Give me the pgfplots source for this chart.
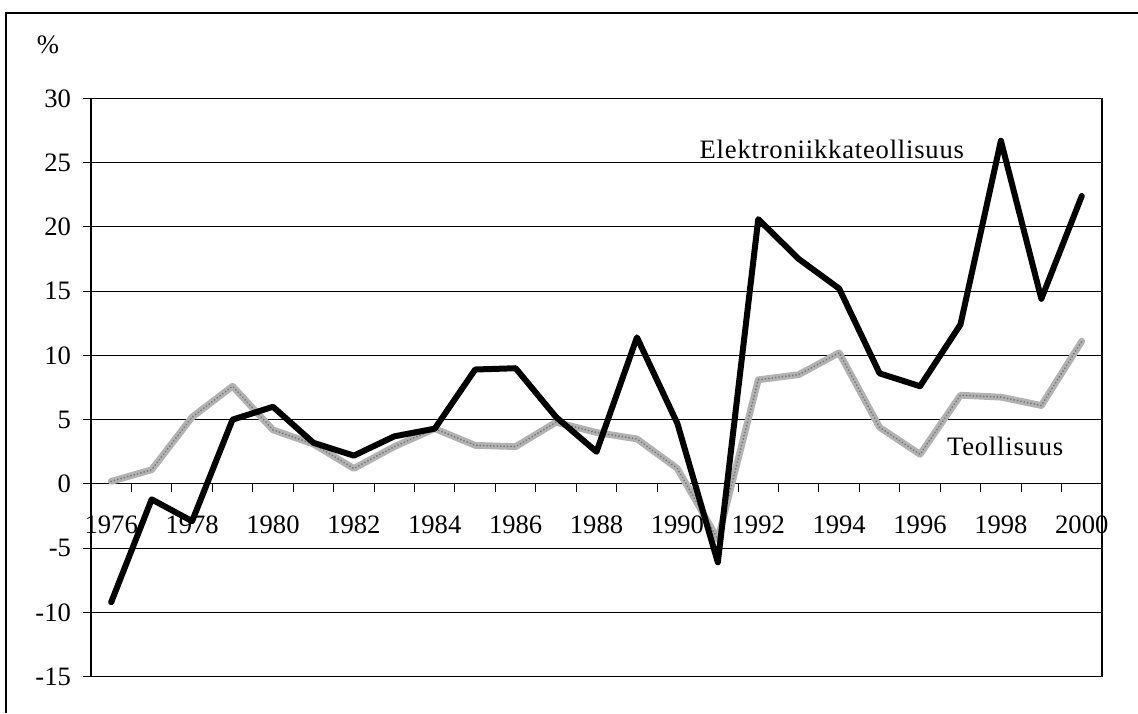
\documentclass[border=0pt]{standalone}
\usepackage{fontspec}
\setmainfont{Liberation Serif}
\usepackage{pgfplots}
\pgfplotsset{compat=1.18}
\usepackage{pgfplotstable}

\pgfplotstableread{
year elek teol
1976 -9.2 0.2
1977 -1.2 1.1
1978 -2.9 5.2
1979 5.0 7.6
1980 6.0 4.2
1981 3.2 3.1
1982 2.2 1.2
1983 3.7 2.9
1984 4.3 4.3
1985 8.9 3.0
1986 9.0 2.9
1987 5.2 4.8
1988 2.5 4.0
1989 11.4 3.5
1990 4.7 1.2
1991 -6.1 -4.3
1992 20.6 8.1
1993 17.5 8.5
1994 15.2 10.2
1995 8.6 4.4
1996 7.6 2.3
1997 12.4 6.9
1998 26.7 6.75
1999 14.4 6.1
2000 22.4 11.1
}\datatable

\definecolor{lgray}{RGB}{178,178,178}
\definecolor{dgray}{RGB}{120,120,120}

\begin{document}
\begin{tikzpicture}
\useasboundingbox (0,0) rectangle (569pt,356.5pt);
\draw[line width=0.6pt] (3pt,0) -- (3pt,350pt) -- (569pt,350pt);
\node[font=\fontsize{13.3}{16}\selectfont] at (24pt,334pt) {\%};
\begin{axis}[
  at={(45.5pt,18.15pt)}, anchor=south west,
  width=505.5pt, height=289.2pt, scale only axis,
  xmin=-0.5, xmax=24.5,
  ymin=-15, ymax=30,
  xtick=\empty,
  ytick={-15,-10,-5,0,5,10,15,20,25,30},
  yticklabels={-15,-10,-5,0,5,10,15,20,25,30},
  ytick pos=left, tick align=outside,
  major tick length=4pt,
  yticklabel style={font=\fontsize{13.3}{16}\selectfont, anchor=east, xshift=-2.5pt},
  ymajorgrids,
  grid style={black, line width=0.5pt},
  axis line style={black, line width=0.6pt},
  every tick/.style={black, line width=0.5pt},
  clip=false,
]
\addplot[lgray, line width=3.4pt, line join=round, line cap=round,
  postaction={draw, dgray, line width=1pt, dash pattern=on 0.01pt off 1.7pt, line cap=round}]
  table[x expr=\thisrow{year}-1976, y=teol] {\datatable};
\addplot[black, line width=3pt, line join=round, line cap=round]
  table[x expr=\thisrow{year}-1976, y=elek] {\datatable};
\pgfplotsinvokeforeach{0,...,23}{
  \draw[black, line width=0.5pt] (axis cs:#1+0.5,0) -- ([yshift=-4pt]axis cs:#1+0.5,0);
}
\node[anchor=base, font=\fontsize{13.3}{16}\selectfont, yshift=-25pt] at (axis cs:0,0) {1976};
\node[anchor=base, font=\fontsize{13.3}{16}\selectfont, yshift=-25pt] at (axis cs:2,0) {1978};
\node[anchor=base, font=\fontsize{13.3}{16}\selectfont, yshift=-25pt] at (axis cs:4,0) {1980};
\node[anchor=base, font=\fontsize{13.3}{16}\selectfont, yshift=-25pt] at (axis cs:6,0) {1982};
\node[anchor=base, font=\fontsize{13.3}{16}\selectfont, yshift=-25pt] at (axis cs:8,0) {1984};
\node[anchor=base, font=\fontsize{13.3}{16}\selectfont, yshift=-25pt] at (axis cs:10,0) {1986};
\node[anchor=base, font=\fontsize{13.3}{16}\selectfont, yshift=-25pt] at (axis cs:12,0) {1988};
\node[anchor=base, font=\fontsize{13.3}{16}\selectfont, yshift=-25pt] at (axis cs:14,0) {1990};
\node[anchor=base, font=\fontsize{13.3}{16}\selectfont, yshift=-25pt] at (axis cs:16,0) {1992};
\node[anchor=base, font=\fontsize{13.3}{16}\selectfont, yshift=-25pt] at (axis cs:18,0) {1994};
\node[anchor=base, font=\fontsize{13.3}{16}\selectfont, yshift=-25pt] at (axis cs:20,0) {1996};
\node[anchor=base, font=\fontsize{13.3}{16}\selectfont, yshift=-25pt] at (axis cs:22,0) {1998};
\node[anchor=base, font=\fontsize{13.3}{16}\selectfont, yshift=-25pt] at (axis cs:24,0) {2000};
\end{axis}
\node[anchor=base west, font=\fontsize{13.3}{16}\selectfont\addfontfeature{LetterSpace=3}] at (346.3pt,277.35pt) {Elektroniikkateollisuus};
\node[anchor=base west, font=\fontsize{13.3}{16}\selectfont\addfontfeature{LetterSpace=3}] at (470pt,129pt) {Teollisuus};
\end{tikzpicture}
\end{document}
